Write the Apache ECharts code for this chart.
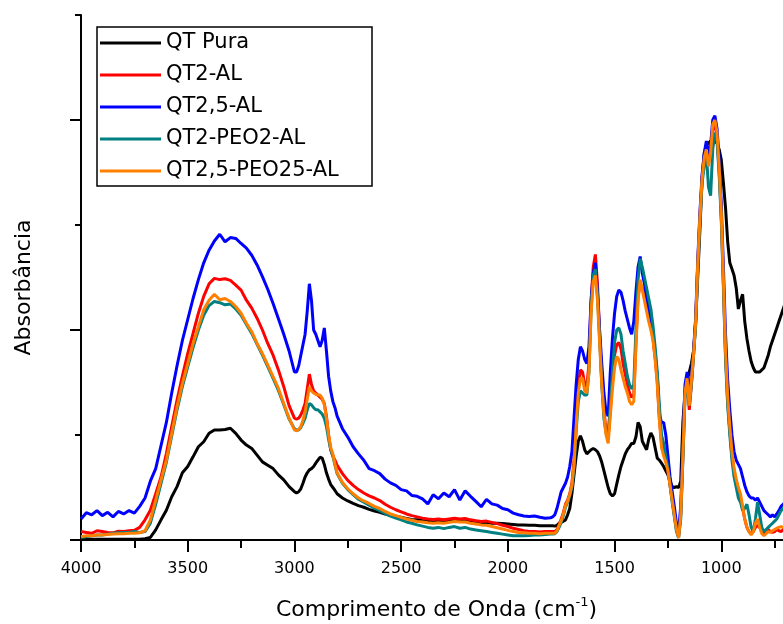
<!DOCTYPE html>
<html>
<head>
<meta charset="utf-8">
<title>Absorbância</title>
<script src="https://cdn.jsdelivr.net/npm/echarts@6/dist/echarts.min.js"></script>
<style>
  html, body { margin: 0; padding: 0; background: #fff; }
  #chart { width: 783px; height: 624px; }
</style>
</head>
<body>
<div id="chart"></div>
<script>
// numero de onda (cm-1), eixo invertido
const waveNumbers = [
  4000, 3975, 3950, 3925, 3900, 3875, 3850, 3825, 3800, 3775,
  3750, 3725, 3700, 3675, 3650, 3625, 3600, 3575, 3550, 3525,
  3500, 3475, 3450, 3425, 3400, 3375, 3350, 3325, 3300, 3275,
  3250, 3225, 3200, 3175, 3150, 3125, 3100, 3075, 3050, 3025,
  3000,
  2990, 2980, 2970, 2960, 2950, 2940, 2930, 2920, 2910, 2900,
  2890, 2880, 2870, 2860, 2850, 2840, 2830, 2820, 2810,
  2800, 2775, 2750, 2725, 2700, 2675, 2650, 2625, 2600, 2575,
  2550, 2525, 2500, 2475, 2450, 2425, 2400, 2375, 2350, 2325,
  2300, 2275, 2250, 2225, 2200, 2175, 2150, 2125, 2100, 2075,
  2050, 2025, 2000, 1975, 1950, 1925, 1900, 1875, 1850, 1825,
  1800,
  1790, 1780, 1770, 1760, 1750, 1740, 1730, 1720, 1710, 1700,
  1690, 1680, 1670, 1660, 1650, 1640, 1630, 1620, 1610, 1600,
  1590, 1580, 1570, 1560, 1550, 1540, 1530, 1520, 1510, 1500,
  1490, 1480, 1470, 1460, 1450, 1440, 1430, 1420, 1410, 1400,
  1390, 1380, 1370, 1360, 1350, 1340, 1330, 1320, 1310, 1300,
  1290, 1280, 1270, 1260, 1250, 1240, 1230, 1220, 1210, 1200,
  1190, 1180, 1170, 1160, 1150, 1140, 1130, 1120, 1110, 1100,
  1090, 1080, 1070, 1060, 1050, 1040, 1030, 1020, 1010, 1000,
  990, 980, 970, 960, 950, 940, 930, 920, 910, 900,
  890, 880, 870, 860, 850, 840, 830, 820, 810, 800,
  790, 780, 770, 760, 750, 740, 730, 720, 710, 700
]

const qtPura = [
  0.002, 0.002, 0.002, 0.002, 0.002, 0.002, 0.002, 0.002, 0.002, 0.002,
  0.002, 0.002, 0.003, 0.006, 0.024, 0.048, 0.071, 0.103, 0.127, 0.160,
  0.175, 0.198, 0.222, 0.234, 0.254, 0.262, 0.262, 0.263, 0.266, 0.254,
  0.238, 0.226, 0.218, 0.202, 0.186, 0.178, 0.170, 0.155, 0.143, 0.127,
  0.115,
  0.112, 0.115, 0.122, 0.135, 0.150, 0.160, 0.167, 0.170, 0.175, 0.183,
  0.190, 0.197, 0.195, 0.180, 0.160, 0.145, 0.132, 0.125, 0.118,
  0.110, 0.100, 0.093, 0.087, 0.082, 0.078, 0.073, 0.069, 0.066, 0.062,
  0.059, 0.056, 0.054, 0.051, 0.049, 0.048, 0.047, 0.046, 0.045, 0.046,
  0.047, 0.046, 0.045, 0.044, 0.045, 0.043, 0.042, 0.041, 0.042, 0.040,
  0.040, 0.039, 0.038, 0.037, 0.036, 0.036, 0.035, 0.035, 0.034, 0.034,
  0.034,
  0.034, 0.033, 0.035, 0.040, 0.042, 0.045, 0.048, 0.060, 0.075, 0.110,
  0.155, 0.200, 0.235, 0.248, 0.235, 0.215, 0.205, 0.210, 0.215, 0.218,
  0.215, 0.210, 0.200, 0.185, 0.165, 0.145, 0.125, 0.110, 0.105, 0.110,
  0.133, 0.155, 0.175, 0.190, 0.205, 0.215, 0.222, 0.230, 0.230, 0.245,
  0.280, 0.270, 0.235, 0.225, 0.215, 0.240, 0.255, 0.245, 0.220, 0.195,
  0.190, 0.183, 0.175, 0.165, 0.155, 0.140, 0.127, 0.125, 0.127, 0.125,
  0.140, 0.280, 0.350, 0.380, 0.400, 0.420, 0.450, 0.520, 0.630, 0.740,
  0.860, 0.920, 0.940, 0.945, 0.950, 0.950, 0.950, 0.945, 0.930, 0.905,
  0.850, 0.790, 0.710, 0.660, 0.645, 0.630, 0.600, 0.550, 0.570, 0.585,
  0.520, 0.480, 0.450, 0.425, 0.410, 0.400, 0.400, 0.400, 0.405, 0.410,
  0.425, 0.440, 0.460, 0.475, 0.490, 0.505, 0.520, 0.535, 0.550, 0.565
]

const qt2Al = [
  0.020, 0.018, 0.016, 0.022, 0.020, 0.018, 0.017, 0.021, 0.020, 0.022,
  0.023, 0.030, 0.048, 0.071, 0.110, 0.150, 0.206, 0.270, 0.333, 0.390,
  0.444, 0.492, 0.540, 0.580, 0.610, 0.623, 0.620, 0.622, 0.618, 0.607,
  0.595, 0.571, 0.552, 0.528, 0.500, 0.468, 0.440, 0.405, 0.365, 0.320,
  0.290,
  0.288, 0.290, 0.298, 0.310, 0.325, 0.360, 0.395, 0.370, 0.355, 0.350,
  0.345, 0.340, 0.335, 0.325, 0.295, 0.250, 0.215, 0.200, 0.190,
  0.178, 0.158, 0.142, 0.130, 0.120, 0.112, 0.105, 0.100, 0.094, 0.085,
  0.078, 0.072, 0.067, 0.062, 0.058, 0.055, 0.052, 0.050, 0.049, 0.050,
  0.048, 0.050, 0.052, 0.050, 0.051, 0.048, 0.046, 0.044, 0.045, 0.042,
  0.039, 0.035, 0.032, 0.028, 0.025, 0.022, 0.020, 0.020, 0.019, 0.020,
  0.020,
  0.020, 0.020, 0.025, 0.035, 0.050, 0.065, 0.085, 0.095, 0.110, 0.135,
  0.190, 0.290, 0.370, 0.405, 0.400, 0.370, 0.365, 0.420, 0.570, 0.650,
  0.680, 0.610, 0.490, 0.380, 0.310, 0.260, 0.245, 0.310, 0.380, 0.440,
  0.465, 0.470, 0.455, 0.420, 0.395, 0.370, 0.350, 0.340, 0.345, 0.470,
  0.580, 0.610, 0.600, 0.590, 0.565, 0.535, 0.510, 0.480, 0.435, 0.380,
  0.290, 0.230, 0.210, 0.190, 0.165, 0.130, 0.095, 0.060, 0.025, 0.008,
  0.060, 0.200, 0.350, 0.390, 0.310, 0.370, 0.440, 0.520, 0.660, 0.770,
  0.860, 0.900, 0.930, 0.900, 0.930, 0.980, 0.990, 0.960, 0.880, 0.770,
  0.610, 0.440, 0.330, 0.260, 0.200, 0.165, 0.140, 0.120, 0.100, 0.075,
  0.050, 0.030, 0.020, 0.015, 0.020, 0.030, 0.035, 0.030, 0.020, 0.015,
  0.020, 0.025, 0.020, 0.018, 0.020, 0.025, 0.022, 0.020, 0.025, 0.030
]

const qt25Al = [
  0.050, 0.065, 0.060, 0.070, 0.058, 0.066, 0.055, 0.068, 0.062, 0.070,
  0.064, 0.080, 0.100, 0.140, 0.170, 0.225, 0.280, 0.350, 0.415, 0.475,
  0.525, 0.575, 0.620, 0.660, 0.690, 0.712, 0.728, 0.710, 0.720, 0.718,
  0.706, 0.695, 0.678, 0.655, 0.627, 0.597, 0.563, 0.527, 0.490, 0.450,
  0.400,
  0.400, 0.415, 0.440, 0.465, 0.490, 0.545, 0.610, 0.570, 0.500, 0.490,
  0.475, 0.460, 0.475, 0.505, 0.450, 0.390, 0.355, 0.330, 0.315,
  0.295, 0.265, 0.245, 0.222, 0.205, 0.190, 0.170, 0.165, 0.158, 0.145,
  0.136, 0.130, 0.120, 0.117, 0.106, 0.104, 0.098, 0.086, 0.108, 0.098,
  0.112, 0.103, 0.120, 0.095, 0.117, 0.104, 0.092, 0.079, 0.097, 0.086,
  0.083, 0.075, 0.072, 0.064, 0.060, 0.057, 0.056, 0.057, 0.054, 0.052,
  0.053,
  0.055, 0.060, 0.075, 0.095, 0.115, 0.125, 0.135, 0.150, 0.175, 0.210,
  0.290, 0.370, 0.430, 0.460, 0.450, 0.430, 0.420, 0.460, 0.570, 0.635,
  0.660, 0.590, 0.500, 0.420, 0.350, 0.305, 0.295, 0.400, 0.480, 0.540,
  0.580, 0.595, 0.590, 0.570, 0.545, 0.525, 0.505, 0.490, 0.520, 0.590,
  0.650, 0.675, 0.635, 0.610, 0.580, 0.550, 0.520, 0.490, 0.445, 0.390,
  0.300, 0.280, 0.280, 0.250, 0.200, 0.150, 0.115, 0.080, 0.040, 0.020,
  0.080, 0.220, 0.370, 0.400, 0.350, 0.390, 0.450, 0.530, 0.670, 0.780,
  0.870, 0.920, 0.950, 0.920, 0.940, 1.000, 1.010, 0.980, 0.910, 0.800,
  0.650, 0.490, 0.380, 0.310, 0.250, 0.210, 0.190, 0.180, 0.170, 0.150,
  0.130, 0.115, 0.105, 0.100, 0.100, 0.095, 0.100, 0.090, 0.080, 0.070,
  0.065, 0.060, 0.055, 0.060, 0.055, 0.062, 0.070, 0.080, 0.085, 0.090
]

const qt2Peo2Al = [
  0.006, 0.008, 0.010, 0.012, 0.012, 0.014, 0.016, 0.017, 0.018, 0.018,
  0.020, 0.018, 0.020, 0.040, 0.085, 0.135, 0.185, 0.248, 0.310, 0.365,
  0.412, 0.458, 0.500, 0.535, 0.558, 0.568, 0.565, 0.560, 0.562, 0.550,
  0.535, 0.513, 0.492, 0.466, 0.440, 0.413, 0.385, 0.356, 0.322, 0.288,
  0.265,
  0.262, 0.262, 0.268, 0.278, 0.290, 0.310, 0.325, 0.322, 0.315, 0.310,
  0.310, 0.305, 0.300, 0.290, 0.270, 0.240, 0.215, 0.200, 0.178,
  0.158, 0.135, 0.120, 0.108, 0.097, 0.090, 0.083, 0.076, 0.070, 0.063,
  0.057, 0.052, 0.048, 0.043, 0.040, 0.036, 0.033, 0.030, 0.028, 0.030,
  0.027, 0.030, 0.032, 0.028, 0.030, 0.026, 0.024, 0.022, 0.020, 0.018,
  0.016, 0.014, 0.012, 0.010, 0.010, 0.010, 0.011, 0.012, 0.012, 0.013,
  0.014,
  0.014, 0.015, 0.020, 0.030, 0.042, 0.058, 0.078, 0.090, 0.105, 0.125,
  0.170, 0.260, 0.330, 0.355, 0.350, 0.345, 0.345, 0.400, 0.550, 0.630,
  0.645, 0.580, 0.480, 0.370, 0.290, 0.255, 0.250, 0.320, 0.400, 0.470,
  0.500, 0.505, 0.490, 0.450, 0.420, 0.390, 0.370, 0.360, 0.370, 0.500,
  0.620, 0.670, 0.650, 0.625, 0.600, 0.575, 0.550, 0.510, 0.460, 0.400,
  0.320, 0.250, 0.230, 0.200, 0.170, 0.130, 0.090, 0.055, 0.020, 0.005,
  0.050, 0.190, 0.340, 0.375, 0.320, 0.370, 0.440, 0.510, 0.650, 0.760,
  0.850, 0.890, 0.920, 0.840, 0.820, 0.930, 0.970, 0.950, 0.870, 0.760,
  0.600, 0.430, 0.320, 0.250, 0.190, 0.150, 0.125, 0.100, 0.090, 0.070,
  0.075, 0.085, 0.060, 0.030, 0.020, 0.050, 0.090, 0.060, 0.030, 0.020,
  0.025, 0.030, 0.035, 0.040, 0.045, 0.050, 0.060, 0.070, 0.075, 0.080
]

const qt25Peo25Al = [
  0.008, 0.010, 0.010, 0.012, 0.012, 0.013, 0.014, 0.015, 0.015, 0.016,
  0.016, 0.017, 0.022, 0.048, 0.095, 0.143, 0.190, 0.254, 0.317, 0.373,
  0.420, 0.468, 0.508, 0.548, 0.571, 0.585, 0.572, 0.575, 0.568, 0.556,
  0.540, 0.516, 0.496, 0.468, 0.444, 0.417, 0.389, 0.361, 0.325, 0.290,
  0.262,
  0.260, 0.263, 0.270, 0.285, 0.305, 0.335, 0.365, 0.355, 0.350, 0.347,
  0.345, 0.345, 0.338, 0.322, 0.290, 0.250, 0.220, 0.205, 0.180,
  0.160, 0.137, 0.122, 0.110, 0.100, 0.093, 0.087, 0.080, 0.075, 0.068,
  0.062, 0.058, 0.054, 0.050, 0.047, 0.044, 0.043, 0.041, 0.040, 0.041,
  0.040, 0.042, 0.044, 0.043, 0.043, 0.040, 0.038, 0.036, 0.035, 0.032,
  0.029, 0.026, 0.023, 0.020, 0.018, 0.017, 0.016, 0.016, 0.015, 0.016,
  0.016,
  0.016, 0.016, 0.022, 0.035, 0.046, 0.062, 0.082, 0.092, 0.108, 0.130,
  0.180, 0.270, 0.350, 0.385, 0.385, 0.355, 0.350, 0.400, 0.540, 0.615,
  0.630, 0.570, 0.470, 0.370, 0.300, 0.250, 0.230, 0.295, 0.360, 0.410,
  0.437, 0.430, 0.405, 0.385, 0.365, 0.350, 0.330, 0.322, 0.330, 0.460,
  0.570, 0.620, 0.595, 0.570, 0.545, 0.520, 0.500, 0.475, 0.430, 0.370,
  0.285, 0.220, 0.200, 0.185, 0.165, 0.130, 0.095, 0.060, 0.025, 0.005,
  0.060, 0.200, 0.350, 0.385, 0.320, 0.380, 0.440, 0.520, 0.660, 0.770,
  0.860, 0.910, 0.930, 0.890, 0.920, 0.990, 1.000, 0.970, 0.890, 0.780,
  0.620, 0.450, 0.340, 0.270, 0.210, 0.170, 0.145, 0.125, 0.110, 0.080,
  0.050, 0.030, 0.020, 0.012, 0.020, 0.040, 0.050, 0.030, 0.015, 0.010,
  0.015, 0.020, 0.018, 0.022, 0.025, 0.028, 0.030, 0.032, 0.030, 0.035
]

const seriesNames = ['QT Pura', 'QT2-AL', 'QT2,5-AL', 'QT2-PEO2-AL', 'QT2,5-PEO25-AL']
const seriesColors = ['#000000', '#ff0000', '#0000ff', '#008080', '#ff8000']
const seriesValues = [qtPura, qt2Al, qt25Al, qt2Peo2Al, qt25Peo25Al]

// marcas do eixo Y (sem rotulos)
const yMajorTicks = [0, 0.5, 1.0]
const yMinorTicks = [0.25, 0.75, 1.25]

const fontFamily = 'DejaVu Sans'

seriesValues.forEach((arr, k) => {
  if (arr.length !== waveNumbers.length) {
    console.error(seriesNames[k] + ': ' + arr.length + ' != ' + waveNumbers.length)
  }
})

const chart = echarts.init(document.getElementById('chart'))

chart.setOption({
  animation: false,
  backgroundColor: '#ffffff',
  grid: {
    left: 81,
    right: -45,
    top: 15,
    bottom: 84,
    containLabel: false,
    outerBoundsMode: 'none'
  },
  legend: {
    orient: 'vertical',
    left: 97,
    top: 27,
    data: seriesNames,
    icon: 'rect',
    itemWidth: 61,
    itemHeight: 3,
    itemGap: 8,
    padding: [4, 3, 3, 3],
    borderColor: '#000',
    borderWidth: 1.5,
    backgroundColor: '#fff',
    textStyle: {
      fontFamily: fontFamily,
      fontSize: 21,
      color: '#000',
      lineHeight: 24,
      width: 203
    }
  },
  xAxis: [
    {
      type: 'value',
      inverse: true,
      min: 500,
      max: 4000,
      interval: 500,
      name: '{t|Comprimento de Onda (cm}{sup|-1}{t|)}',
      nameLocation: 'middle',
      nameGap: 56,
      nameTextStyle: {
        padding: [0, 36, 0, 0],
        rich: {
          t: { fontFamily: fontFamily, fontSize: 22, color: '#000', lineHeight: 28 },
          sup: { fontFamily: fontFamily, fontSize: 13, color: '#000', lineHeight: 8, verticalAlign: 'top' }
        }
      },
      axisLine: { lineStyle: { color: '#000', width: 2 } },
      axisTick: { length: 12, lineStyle: { color: '#000', width: 2 } },
      minorTick: { show: true, splitNumber: 2, length: 8, lineStyle: { color: '#000', width: 2 } },
      axisLabel: {
        margin: 21,
        color: '#000',
        fontSize: 16,
        fontFamily: fontFamily,
        formatter: (v) => String(v)
      },
      splitLine: { show: false },
      minorSplitLine: { show: false }
    },
    {
      type: 'value',
      position: 'top',
      inverse: true,
      min: 500,
      max: 4000,
      axisLine: { lineStyle: { color: '#000', width: 2 } },
      axisTick: { show: false },
      axisLabel: { show: false },
      splitLine: { show: false }
    }
  ],
  yAxis: [
    {
      type: 'value',
      position: 'left',
      min: 0,
      max: 1.25,
      name: 'Absorbância',
      nameLocation: 'middle',
      nameGap: 44,
      nameRotate: 90,
      nameTextStyle: {
        fontFamily: fontFamily,
        fontSize: 22,
        color: '#000',
        lineHeight: 26,
        padding: [0, 20, 0, 0]
      },
      axisLine: { lineStyle: { color: '#000', width: 2 } },
      axisTick: { customValues: yMajorTicks, length: 11, lineStyle: { color: '#000', width: 2 } },
      axisLabel: { show: false },
      splitLine: { show: false }
    },
    {
      type: 'value',
      position: 'left',
      min: 0,
      max: 1.25,
      axisLine: { show: false },
      axisTick: { customValues: yMinorTicks, length: 6, lineStyle: { color: '#000', width: 2 } },
      axisLabel: { show: false },
      splitLine: { show: false }
    }
  ],
  series: seriesNames.map((name, k) => ({
    name: name,
    type: 'line',
    xAxisIndex: 0,
    yAxisIndex: 0,
    showSymbol: false,
    symbol: 'none',
    data: waveNumbers.map((w, i) => [w, seriesValues[k][i]]),
    lineStyle: { color: seriesColors[k], width: 3 },
    itemStyle: { color: seriesColors[k] }
  }))
})
</script>
</body>
</html>
